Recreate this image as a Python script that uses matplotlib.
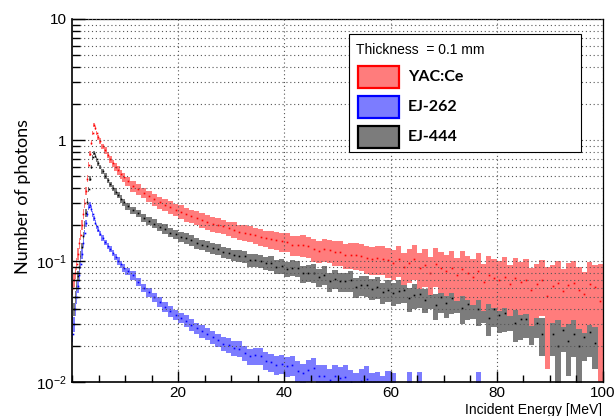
import numpy as np
import matplotlib
matplotlib.use("Agg")
import matplotlib.pyplot as plt
import matplotlib.ticker as mticker
from matplotlib.patches import Rectangle

plt.rcParams["font.family"] = "Liberation Sans"
plt.rcParams["mathtext.fontset"] = "custom"
plt.rcParams["mathtext.rm"] = "Liberation Sans"
plt.rcParams["mathtext.it"] = "Liberation Sans:italic"

# ── Data ──────────────────────────────────────────────────────────────────────
# binning: 0.25 MeV below 5 MeV, 0.5 MeV up to 10 MeV, 1 MeV above
EDGES = np.concatenate([np.arange(0, 5, 0.25), np.arange(5, 10, 0.5), np.arange(10, 101, 1.0)])

# YAC:Ce  (bin content, number of photons)
yac_val = [
    0.06, 0.07, 0.08, 0.095, 0.115, 0.14, 0.165, 0.2, 0.245, 0.3,
    0.38, 0.48, 0.62, 0.77, 0.95, 1.15, 1.33, 1.25, 1.14, 1.05,
    0.98, 0.89, 0.82, 0.75, 0.69, 0.64, 0.60, 0.56, 0.52, 0.49,
    0.454, 0.416, 0.390, 0.366, 0.344, 0.323, 0.305, 0.293, 0.280, 0.266,
    0.256, 0.243, 0.235, 0.227, 0.219, 0.210, 0.203, 0.198, 0.193, 0.186,
    0.182, 0.174, 0.171, 0.168, 0.164, 0.157, 0.154, 0.152, 0.149, 0.145,
    0.144, 0.136, 0.136, 0.136, 0.132, 0.125, 0.122, 0.125, 0.123, 0.119,
    0.118, 0.112, 0.113, 0.113, 0.110, 0.105, 0.103, 0.105, 0.104, 0.101,
    0.097, 0.103, 0.090, 0.096, 0.103, 0.088, 0.093, 0.080, 0.095, 0.087,
    0.082, 0.088, 0.076, 0.086, 0.079, 0.074, 0.082, 0.067, 0.077, 0.072,
    0.069, 0.074, 0.064, 0.073, 0.067, 0.070, 0.058, 0.064, 0.069, 0.051,
    0.062, 0.066, 0.057, 0.063, 0.066, 0.058, 0.053, 0.064, 0.061, 0.047,
]
yac_err = [  # relative error, %
    13, 13, 12, 12, 11, 11, 10, 10, 9, 9, 8, 7, 6, 5, 5, 4, 4, 4, 4, 4,
    5, 5, 6, 6, 7, 7, 8, 8, 8, 9,
    9, 10, 10, 10, 11, 11, 11, 12, 12, 12,
    13, 13, 13, 13, 14, 14, 14, 14, 14, 14,
    15, 15, 15, 15, 15, 16, 16, 17, 17, 18,
    18, 19, 19, 20, 20, 21, 21, 22, 22, 23,
    23, 24, 24, 25, 25, 26, 26, 27, 27, 28,
    28, 29, 30, 31, 32, 33, 34, 35, 36, 37,
    37, 38, 39, 40, 40, 41, 42, 42, 43, 43,
    44, 45, 45, 46, 47, 48, 50, 47, 49, 75,
    50, 51, 50, 52, 51, 53, 52, 54, 53, 100,
]

# EJ-262
ej262_val = [
    0.025, 0.03, 0.04, 0.05, 0.062, 0.076, 0.095, 0.115, 0.14, 0.17,
    0.205, 0.245, 0.28, 0.29, 0.27, 0.245, 0.225, 0.208, 0.194, 0.182,
    0.168, 0.155, 0.143, 0.134, 0.126, 0.117, 0.108, 0.100, 0.094, 0.088,
    0.082, 0.076, 0.067, 0.060, 0.055, 0.050, 0.046, 0.042, 0.0385, 0.036,
    0.0340, 0.0322, 0.0298, 0.0278, 0.0265, 0.0251, 0.0234, 0.0222, 0.0208, 0.0201,
    0.0191, 0.0188, 0.0174, 0.0164, 0.0166, 0.0164, 0.0150, 0.0147, 0.0139, 0.0141,
    0.0135, 0.0139, 0.0124, 0.0118, 0.0126, 0.0130, 0.0113, 0.0113, 0.0104, 0.0112,
    0.0107, 0.0111, 0.0100, 0.0095, 0.0102, 0.0106, 0.0093, 0.0094, 0.0087, 0.0095,
    0.0091, 0, 0, 0.006, 0, 0.006, 0, 0, 0, 0,
    0, 0, 0, 0, 0, 0, 0.006, 0, 0, 0,
    0, 0, 0, 0, 0, 0, 0, 0, 0, 0,
    0, 0, 0, 0, 0, 0, 0, 0, 0, 0,
]
ej262_err = [
    15, 14, 13, 12, 12, 11, 10, 9, 8, 7, 7, 6, 6, 5, 5, 5, 5, 5, 5, 5,
    5, 5, 5, 6, 6, 6, 6, 7, 7, 7,
    7, 8, 8, 8, 8, 9, 9, 9, 10, 10,
    10, 11, 11, 11, 12, 12, 12, 13, 13, 14,
    14, 15, 15, 15, 16, 16, 17, 17, 18, 18,
    19, 19, 20, 20, 21, 21, 22, 22, 23, 23,
    24, 25, 25, 26, 26, 27, 27, 28, 28, 29,
    30, 0, 0, 100, 0, 100, 0, 0, 0, 0,
    0, 0, 0, 0, 0, 0, 100, 0, 0, 0,
    0, 0, 0, 0, 0, 0, 0, 0, 0, 0,
    0, 0, 0, 0, 0, 0, 0, 0, 0, 0,
]

# EJ-444
ej444_val = [
    0.031, 0.04, 0.05, 0.062, 0.075, 0.09, 0.11, 0.13, 0.16, 0.2,
    0.25, 0.31, 0.39, 0.48, 0.6, 0.72, 0.78, 0.74, 0.69, 0.64,
    0.60, 0.55, 0.505, 0.465, 0.43, 0.40, 0.375, 0.35, 0.327, 0.305,
    0.283, 0.263, 0.247, 0.227, 0.215, 0.204, 0.191, 0.185, 0.172, 0.167,
    0.158, 0.154, 0.148, 0.140, 0.136, 0.132, 0.128, 0.125, 0.118, 0.116,
    0.112, 0.111, 0.109, 0.102, 0.102, 0.100, 0.096, 0.096, 0.090, 0.091,
    0.086, 0.088, 0.087, 0.079, 0.080, 0.080, 0.074, 0.077, 0.068, 0.071,
    0.068, 0.068, 0.069, 0.061, 0.063, 0.063, 0.059, 0.061, 0.055, 0.058,
    0.054, 0.057, 0.058, 0.049, 0.052, 0.053, 0.048, 0.053, 0.043, 0.050,
    0.045, 0.049, 0.050, 0.041, 0.0445, 0.045, 0.040, 0.043, 0.034, 0.040,
    0.036, 0.037, 0.038, 0.031, 0.033, 0.033, 0.030, 0.031, 0.025, 0.028,
    0.025, 0.020, 0.027, 0.022, 0.025, 0.020, 0.0235, 0.026, 0.021, 0.025,
]
ej444_err = [
    14, 13, 13, 12, 11, 11, 10, 9, 8, 8, 7, 6, 5, 5, 4, 4, 4, 4, 4, 4,
    4, 4, 5, 5, 5, 6, 6, 6, 7, 7,
    7, 7, 7, 8, 8, 8, 8, 9, 9, 9,
    9, 10, 10, 10, 10, 10, 11, 11, 11, 11,
    11, 12, 12, 12, 13, 13, 13, 14, 14, 15,
    15, 15, 16, 16, 16, 17, 17, 17, 18, 18,
    18, 18, 19, 19, 19, 20, 20, 20, 20, 21,
    21, 22, 22, 22, 23, 23, 23, 24, 24, 25,
    25, 25, 26, 26, 27, 27, 28, 28, 29, 29,
    30, 30, 31, 31, 32, 30, 33, 25, 34, 30,
    34, 90, 35, 49, 36, 85, 37, 38, 39, 40,
]

SERIES = [  # drawing order: later one sits on top
    ("EJ-444", ej444_val, ej444_err, "#7c7c7c", "black", "black"),
    ("EJ-262", ej262_val, ej262_err, "#7c7cff", "#0000ff", "#0000ff"),
    ("YAC:Ce", yac_val, yac_err, "#ff7c7c", "#ff0000", "#ff0000"),
]


def draw_hist(ax, vals, err_pct, fill, dot, z):
    """Error boxes (value +/- error) per bin, plus a dot at each bin centre."""
    v = np.array(vals, dtype=float)
    s = v * np.array(err_pct, dtype=float) / 100
    lo = np.clip(v - s, 1e-4, None)
    hi = v + s
    ok = v > 0
    i, n = 0, len(v)
    while i < n:
        if not ok[i]:
            i += 1
            continue
        j = i
        while j < n and ok[j]:
            j += 1
        ax.fill_between(EDGES[i:j + 1], np.append(lo[i:j], lo[j - 1]),
                        np.append(hi[i:j], hi[j - 1]), step="post",
                        color=fill, lw=0, zorder=z)
        i = j
    centers = 0.5 * (EDGES[:-1] + EDGES[1:])
    ax.plot(centers[ok], v[ok], ls="none", marker="s", ms=1.2, mew=0,
            color=dot, zorder=z + 0.05)


# ── Figure ────────────────────────────────────────────────────────────────────
W, H = 616, 416
fig = plt.figure(figsize=(W / 100, H / 100), dpi=100)
ax = fig.add_axes([72 / W, 1 - 382 / H, (603 - 72) / W, (382 - 19) / H])

for k, (name, vals, err, fill, dot, edge) in enumerate(SERIES):
    draw_hist(ax, vals, err, fill, dot, 1.0 + 0.2 * k)

ax.set_yscale("log")
ax.set_xlim(0, 100)
ax.set_ylim(0.01, 10)

ax.set_xticks([20, 40, 60, 80, 100])
ax.xaxis.set_minor_locator(mticker.MultipleLocator(5))
ax.set_yticks([0.01, 0.1, 1, 10], labels=["$10^{-2}$", "$10^{-1}$", "1", "10"])
ax.yaxis.set_minor_locator(mticker.LogLocator(base=10, subs=np.arange(2, 10)))
ax.yaxis.set_minor_formatter(mticker.NullFormatter())

ax.tick_params(axis="both", which="both", direction="in", top=False, right=False,
               labelsize=11, width=1.0, color="black")
ax.tick_params(axis="x", which="major", length=8, pad=3)
ax.tick_params(axis="x", which="minor", length=4.7)
ax.tick_params(axis="y", which="major", length=9.5, pad=4)
ax.tick_params(axis="y", which="minor", length=6)

ax.set_axisbelow(False)
ax.grid(True, which="major", axis="x", color="#555555", lw=0.8, ls=(0, (1, 2.5)))
ax.grid(True, which="both", axis="y", color="#555555", lw=0.8, ls=(0, (1, 2.5)))

for side in ["left", "bottom"]:
    ax.spines[side].set_linewidth(1.2)
for side in ["top", "right"]:
    ax.spines[side].set_linewidth(0.9)

fig.text(602 / W, 1 - 410 / H, "Incident Energy [MeV]", ha="right", va="center",
         fontsize=10)
fig.text(23 / W, 1 - 196 / H, "Number of photons", rotation=90, ha="center",
         va="center", fontsize=13, family="Lato")

# ── Legend box ────────────────────────────────────────────────────────────────
def fx(px):
    return px / W


def fy(py):
    return 1 - py / H


fig.patches.append(Rectangle((fx(349), fy(152)), fx(581) - fx(349), fy(34) - fy(152),
                             transform=fig.transFigure, facecolor="white",
                             edgecolor="black", lw=0.8, zorder=5))
fig.text(fx(356), fy(50), "Thickness  = 0.1 mm", ha="left", va="center",
         fontsize=10, zorder=6)
entry_y = {"YAC:Ce": 77, "EJ-262": 107, "EJ-444": 137}
for name, vals, err, fill, dot, edge in SERIES:
    yc = entry_y[name]
    fig.patches.append(Rectangle((fx(358), fy(yc + 10.5)), fx(399) - fx(358), fy(0) - fy(21),
                                 transform=fig.transFigure, facecolor=fill,
                                 edgecolor=edge, lw=1.6, zorder=6))
    fig.text(fx(408), fy(yc), name, ha="left", va="center", fontsize=11.5,
             family="Lato", weight="bold", zorder=7)

fig.savefig("out.png", dpi=100)
